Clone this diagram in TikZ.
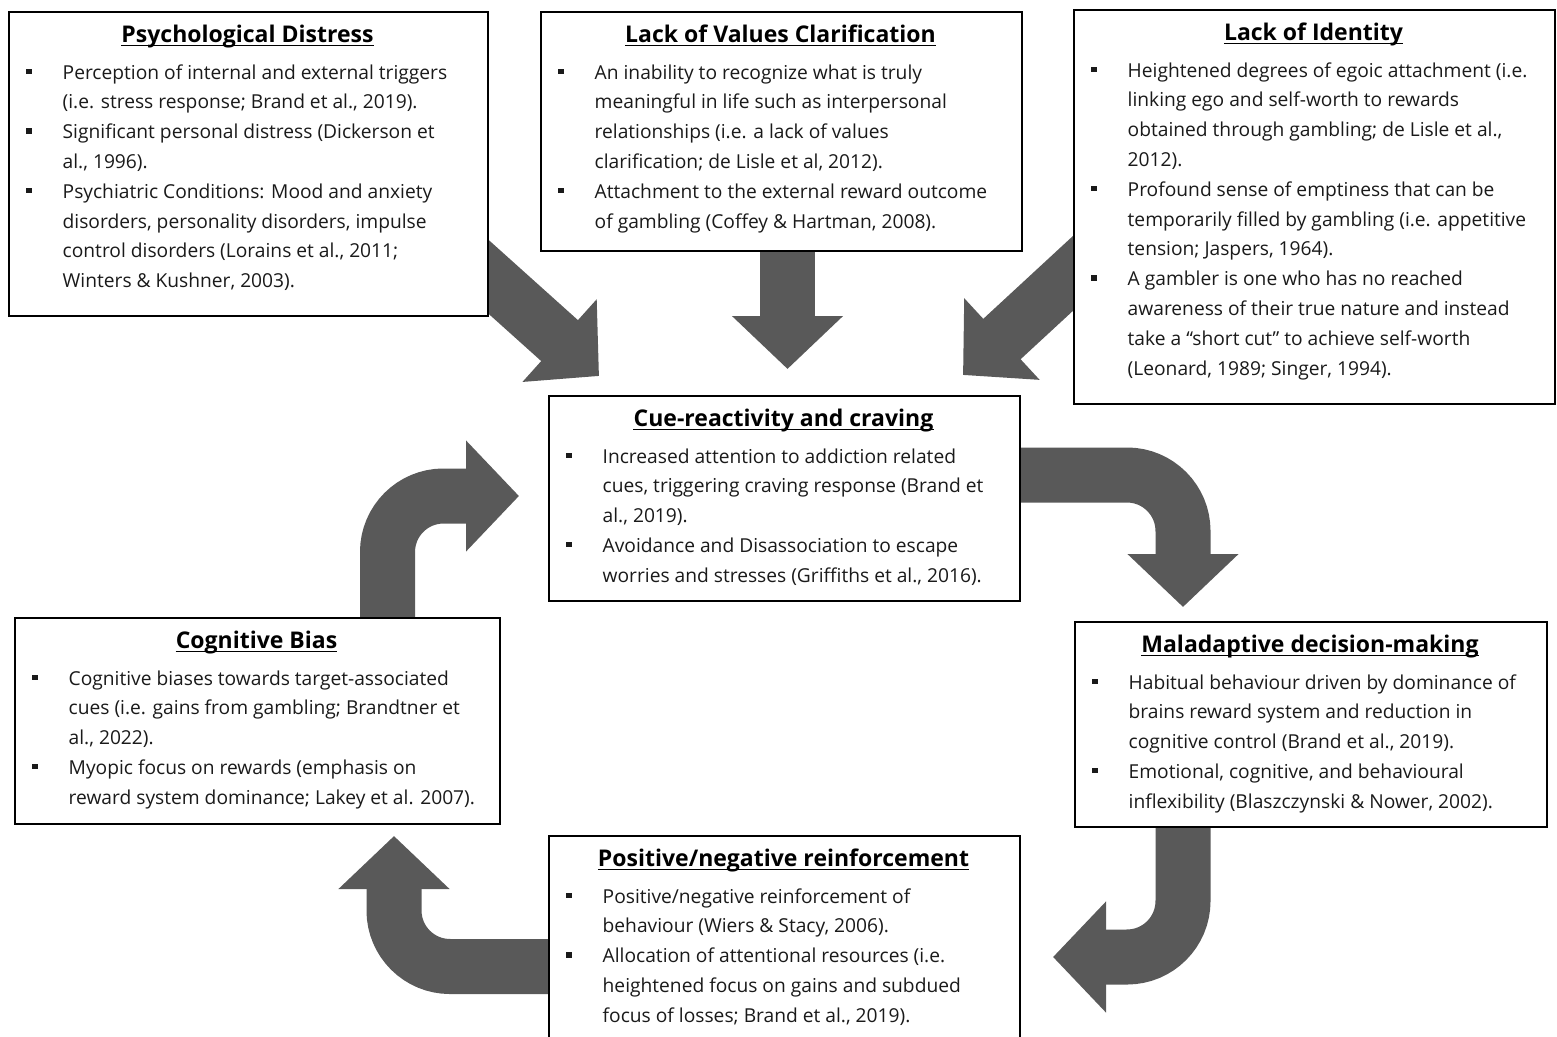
\documentclass[tikz,border=0pt]{standalone}
\usepackage{fontspec}
\setmainfont{Open Sans}
\usetikzlibrary{arrows.meta}
\definecolor{arrowgray}{HTML}{595959}
\definecolor{bodycol}{HTML}{1A1A1A}
\newcount\lnum
\newcommand\startbox[2]{\def\bx{#1}\pgfmathsetmacro\by{#2+68}}
\newcommand\bitem[1]{\global\advance\lnum by 1
  \fill[bodycol] (\bx+18,\by-10.5) rectangle (\bx+23.5,\by-5);
  \node[body] (line\the\lnum) at (\bx+54.5,\by) {#1};
  \pgfmathsetmacro\by{\by+29.8}}
\newcommand\bcont[1]{\global\advance\lnum by 1
  \node[body] (line\the\lnum) at (\bx+54.5,\by) {#1};
  \pgfmathsetmacro\by{\by+29.8}}
\newcommand\btitle[4]{%
  \node[ttl] (#1) at (#2,#3+31.5) {#4};
  \draw[line width=1.5pt] ([yshift=-2.8pt]#1.base west) -- ([yshift=-2.8pt]#1.base east);}
\tikzset{
  boxnode/.style={draw=black, line width=1.6pt, fill=white, rectangle, inner sep=0pt, anchor=north west},
  barrow/.style={draw=arrowgray, line width=55pt, -{Triangle[width=108pt,length=53pt]}},
  ttl/.style={font=\bfseries\fontsize{23}{27}\selectfont, text=black, anchor=base, inner sep=0pt},
  body/.style={font=\fontsize{19.2}{23}\selectfont, text=bodycol, anchor=base west, inner sep=0pt}
}
\begin{document}
\begin{tikzpicture}[x=1pt,y=-1pt]
\useasboundingbox (0,0) rectangle (1557,1036);
\clip (0,0) rectangle (1557,1036);

% ---- block arrows (drawn first, boxes cover their tails)
\coordinate (a1s) at (413,209);   \coordinate (a1t) at (599,376);
\coordinate (a2s) at (787.5,200); \coordinate (a2t) at (787.5,369);
\coordinate (a3s) at (1147,205);  \coordinate (a3t) at (963,375);
\coordinate (a4s) at (900,475);   \coordinate (a4c) at (1183,475);  \coordinate (a4t) at (1183,607);
\coordinate (a5s) at (1183,760);  \coordinate (a5c) at (1183,957);  \coordinate (a5t) at (1053,957);
\coordinate (a6s) at (700,966.5); \coordinate (a6c) at (394,966.5); \coordinate (a6t) at (394,836);
\coordinate (a7s) at (387.5,720); \coordinate (a7c) at (387.5,496); \coordinate (a7t) at (519,496);

\draw[barrow] (a1s) -- (a1t);
\draw[barrow] (a2s) -- (a2t);
\draw[barrow] (a3s) -- (a3t);
\draw[barrow, rounded corners=56pt] (a4s) -- (a4c) -- (a4t);
\draw[barrow, rounded corners=56pt] (a5s) -- (a5c) -- (a5t);
\draw[barrow, rounded corners=56pt] (a6s) -- (a6c) -- (a6t);
\draw[barrow, rounded corners=56pt] (a7s) -- (a7c) -- (a7t);

% ---- boxes
\node[boxnode, minimum width=479pt, minimum height=304pt] (pd) at (8,11) {};
\node[boxnode, minimum width=481pt, minimum height=239pt] (vc) at (540,11) {};
\node[boxnode, minimum width=481pt, minimum height=394pt] (li) at (1073,9) {};
\node[boxnode, minimum width=471pt, minimum height=205pt] (cue) at (548,395) {};
\node[boxnode, minimum width=485pt, minimum height=206pt] (cb) at (14,617) {};
\node[boxnode, minimum width=472pt, minimum height=205pt] (md) at (1074,621) {};
\node[boxnode, minimum width=471pt, minimum height=215pt] (pn) at (548,835) {};

% ---- Psychological Distress
\btitle{tpd}{247.5}{11}{Psychological Distress}
\startbox{8}{11}
\bitem{Perception of internal and external triggers}
\bcont{(i.e. stress response; Brand et al., 2019).}
\bitem{Significant personal distress (Dickerson et}
\bcont{al., 1996).}
\bitem{Psychiatric Conditions: Mood and anxiety}
\bcont{disorders, personality disorders, impulse}
\bcont{control disorders (Lorains et al., 2011;}
\bcont{Winters \& Kushner, 2003).}

% ---- Lack of Values Clarification
\btitle{tvc}{780.5}{11}{Lack of Values Clarification}
\startbox{540}{11}
\bitem{An inability to recognize what is truly}
\bcont{meaningful in life such as interpersonal}
\bcont{relationships (i.e. a lack of values}
\bcont{clarification; de Lisle et al, 2012).}
\bitem{Attachment to the external reward outcome}
\bcont{of gambling (Coffey \& Hartman, 2008).}

% ---- Lack of Identity
\btitle{tli}{1313.5}{9}{Lack of Identity}
\startbox{1073}{9}
\bitem{Heightened degrees of egoic attachment (i.e.}
\bcont{linking ego and self-worth to rewards}
\bcont{obtained through gambling; de Lisle et al.,}
\bcont{2012).}
\bitem{Profound sense of emptiness that can be}
\bcont{temporarily filled by gambling (i.e. appetitive}
\bcont{tension; Jaspers, 1964).}
\bitem{A gambler is one who has no reached}
\bcont{awareness of their true nature and instead}
\bcont{take a “short cut” to achieve self-worth}
\bcont{(Leonard, 1989; Singer, 1994).}

% ---- Cue-reactivity and craving
\btitle{tcue}{783.5}{395}{Cue-reactivity and craving}
\startbox{548}{395}
\bitem{Increased attention to addiction related}
\bcont{cues, triggering craving response (Brand et}
\bcont{al., 2019).}
\bitem{Avoidance and Disassociation to escape}
\bcont{worries and stresses (Griffiths et al., 2016).}

% ---- Cognitive Bias
\btitle{tcb}{256.5}{617}{Cognitive Bias}
\startbox{14}{617}
\bitem{Cognitive biases towards target-associated}
\bcont{cues (i.e. gains from gambling; Brandtner et}
\bcont{al., 2022).}
\bitem{Myopic focus on rewards (emphasis on}
\bcont{reward system dominance; Lakey et al. 2007).}

% ---- Maladaptive decision-making
\btitle{tmd}{1310}{621}{Maladaptive decision-making}
\startbox{1074}{621}
\bitem{Habitual behaviour driven by dominance of}
\bcont{brains reward system and reduction in}
\bcont{cognitive control (Brand et al., 2019).}
\bitem{Emotional, cognitive, and behavioural}
\bcont{inflexibility (Blaszczynski \& Nower, 2002).}

% ---- Positive/negative reinforcement
\btitle{tpn}{783.5}{835}{Positive/negative reinforcement}
\startbox{548}{835}
\bitem{Positive/negative reinforcement of}
\bcont{behaviour (Wiers \& Stacy, 2006).}
\bitem{Allocation of attentional resources (i.e.}
\bcont{heightened focus on gains and subdued}
\bcont{focus of losses; Brand et al., 2019).}
\end{tikzpicture}
\end{document}
